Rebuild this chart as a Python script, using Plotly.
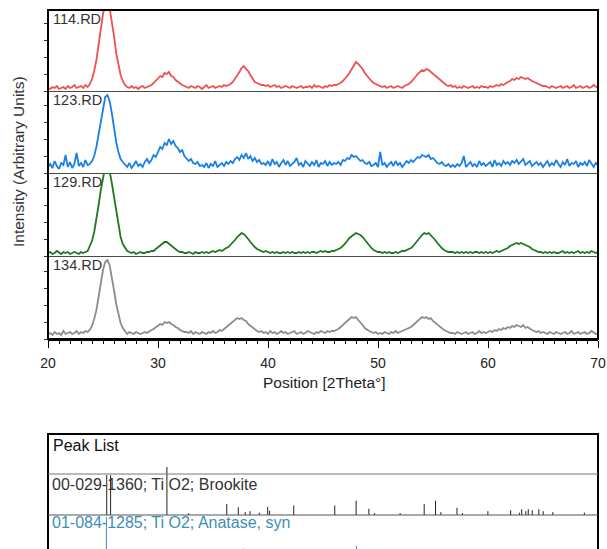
import plotly.graph_objects as go

W, H = 607, 549

# scan grid: one intensity value every 0.2 deg 2theta starting at 20
two_theta_start = 20.0
two_theta_step = 0.2

scan_names = ['114.RD', '123.RD', '129.RD', '134.RD']
scan_colors = ['#ef5050', '#1a80e6', '#1e7a1e', '#8c8c8c']

scan_114 = [
    3, 2, 4, 3, 5, 2, 3, 4, 2, 5, 3, 4, 6, 3, 4, 5, 3, 6, 4,
    7, 12, 20, 31, 46, 62, 77, 86, 89, 83, 70, 55, 38, 25, 16, 10, 6,
    4, 3, 5, 3, 4, 2, 4, 5, 3, 4, 5,
    6, 8, 10, 12, 15, 14, 18, 17, 19, 15, 14, 11, 9, 8, 6, 5,
    4, 3, 5, 4, 3, 5, 4, 2, 4, 6, 3, 4, 5, 3, 4, 5, 4, 6, 5, 6,
    7, 9, 12, 15, 19, 23, 25, 22, 20, 16, 12, 9, 8, 7, 6,
    6, 5, 6, 4, 5, 6, 4, 5, 3, 4, 5, 4, 3, 5, 4, 3, 4, 5, 3, 4,
    4, 5, 3, 6, 4, 5, 4, 3, 5, 4, 6, 5, 6,
    6, 7, 8, 10, 12, 15, 18, 22, 26, 29, 27, 25, 22, 18, 15, 12, 10, 8, 7, 6,
    5, 4, 5, 3, 4, 5, 3, 4, 5, 4, 3, 5, 6,
    7, 9, 11, 14, 17, 19, 21, 20, 22, 21, 19, 18, 15, 13, 11, 9, 8, 6, 5, 6,
    4, 5, 3, 4, 3, 5, 4, 3, 4, 5, 3, 4, 3, 5, 4, 4, 3, 5, 4, 5, 6, 5, 7, 6,
    8, 9, 10, 12, 11, 13, 12, 14, 13, 12, 13, 11, 10, 9, 8, 7, 6, 5,
    5, 4, 3, 5, 4, 3, 4, 5, 3, 4, 5, 3, 4, 6, 3, 4, 5, 3, 4, 5, 3, 4, 6, 4, 3,
]

scan_123 = [
    6, 9, 5, 12, 7, 4, 10, 8, 18, 6, 11, 5, 9, 20, 7, 10, 6, 13, 8,
    9, 12, 17, 26, 38, 53, 66, 76, 78, 72, 60, 45, 31, 21, 14, 11, 8,
    6, 10, 5, 8, 12, 7, 9, 6, 11, 14, 10,
    13, 18, 16, 22, 26, 24, 30, 28, 34, 29, 32, 27, 25, 21, 23, 17,
    15, 12, 14, 10, 9, 11, 7, 8, 6, 10, 5, 9, 7, 12, 6, 8, 10, 7, 11, 9,
    12, 10, 14, 16, 13, 18, 15, 20, 14, 17, 12, 15, 11, 13, 9,
    10, 8, 12, 7, 14, 9, 11, 6, 10, 13, 8, 12, 7, 9, 11, 15, 8, 10, 6, 12,
    9, 7, 11, 8, 13, 6, 10, 9, 12, 7, 11, 8, 10,
    9, 11, 8, 13, 12, 15, 14, 18, 16, 17, 15, 12, 13, 10, 9, 11, 7, 8, 10, 6,
    21, 8, 10, 6, 9, 11, 7, 12, 8, 10, 6, 9, 12,
    10, 13, 11, 14, 16, 15, 18, 17, 16, 18, 14, 15, 12, 10, 9, 11, 8, 7, 9, 6,
    8, 6, 9, 7, 10, 17, 6, 8, 11, 7, 9, 6, 12, 8, 10, 7, 9, 11, 6, 13, 8, 10, 7, 12,
    9, 11, 8, 12, 10, 13, 9, 11, 14, 8, 10, 12, 7, 9, 11, 8, 10, 6,
    9, 12, 7, 10, 8, 13, 9, 6, 11, 8, 14, 7, 10, 9, 12, 6, 10, 8, 11, 7, 13, 9, 6, 10, 8,
]

scan_129 = [
    3, 4, 2, 3, 5, 3, 2, 4, 3, 4, 2, 3, 4, 3, 2, 4, 3, 4, 5,
    10, 15, 24, 36, 51, 66, 80, 89, 91, 85, 73, 59, 43, 29, 19, 12, 8,
    5, 4, 3, 4, 2, 3, 4, 3, 3, 4, 4,
    5, 5, 7, 9, 11, 13, 14, 14, 12, 10, 8, 6, 5, 4, 4, 3,
    3, 4, 3, 2, 4, 3, 3, 4, 3, 4, 3, 4, 5, 4, 5, 6, 5, 7, 8, 9,
    11, 13, 16, 19, 21, 23, 22, 20, 17, 14, 11, 9, 7, 6, 5,
    4, 5, 4, 3, 4, 3, 4, 3, 3, 4, 3, 4, 3, 4, 3, 3, 4, 3, 4, 3,
    4, 3, 4, 4, 3, 4, 5, 4, 5, 4, 4, 5, 5,
    6, 7, 8, 10, 12, 15, 18, 20, 22, 23, 22, 21, 19, 16, 13, 10, 8, 6, 5, 4,
    4, 3, 4, 3, 4, 3, 3, 4, 3, 4, 5, 5, 6,
    7, 8, 10, 13, 16, 19, 21, 23, 22, 23, 21, 19, 16, 13, 10, 8, 6, 5, 4, 4,
    4, 3, 4, 3, 4, 3, 4, 3, 4, 3, 4, 4, 3, 4, 3, 4, 3, 4, 3, 4, 5, 4, 5, 6,
    7, 8, 10, 11, 12, 13, 12, 13, 12, 11, 10, 9, 7, 6, 5, 4, 4, 3,
    4, 3, 4, 3, 4, 3, 3, 4, 5, 3, 4, 3, 4, 3, 4, 5, 3, 4, 3, 4, 3, 5, 4, 3, 4,
]

scan_134 = [
    5, 6, 4, 7, 5, 6, 4, 8, 5, 6, 7, 5, 6, 8, 5, 7, 6, 8, 7,
    9, 13, 20, 29, 42, 56, 69, 77, 79, 74, 63, 49, 35, 24, 16, 11, 8,
    5, 7, 6, 5, 7, 6, 5, 6, 7, 6, 8,
    9, 10, 12, 13, 15, 14, 17, 16, 17, 15, 14, 12, 11, 9, 8, 7,
    7, 6, 8, 5, 7, 6, 5, 7, 6, 5, 7, 6, 8, 6, 7, 9, 8, 10, 11, 13,
    15, 17, 19, 21, 20, 21, 19, 18, 15, 13, 11, 9, 8, 7, 8,
    6, 7, 5, 8, 6, 7, 5, 6, 8, 6, 7, 5, 6, 7, 8, 5, 6, 7, 5, 6,
    8, 7, 6, 5, 7, 6, 8, 7, 6, 8, 7, 8, 8,
    9, 10, 12, 14, 16, 18, 20, 22, 21, 22, 19, 17, 14, 11, 9, 8, 7, 6, 7, 5,
    6, 5, 7, 6, 5, 7, 6, 8, 6, 7, 8, 9, 10,
    11, 12, 14, 16, 18, 20, 22, 21, 22, 20, 21, 18, 16, 14, 12, 10, 9, 8, 7, 6,
    6, 5, 7, 6, 5, 6, 7, 5, 6, 7, 5, 6, 8, 6, 7, 6, 7, 8, 7, 9, 8, 10, 9, 11,
    10, 12, 11, 13, 12, 14, 13, 12, 14, 11, 12, 10, 9, 8, 7, 8, 6, 7,
    6, 5, 7, 6, 5, 7, 6, 5, 6, 7, 5, 6, 8, 5, 6, 7, 5, 6, 7, 5, 6, 8, 6, 5, 6,
]

scans = [scan_114, scan_123, scan_129, scan_134]

# reference patterns (position, relative intensity)
brookite_label = '00-029-1360; Ti O2; Brookite'
brookite_pos = [25.34, 25.69, 30.81, 32.79, 36.25, 37.30, 37.93, 38.37, 39.21, 39.97,
                40.15, 42.34, 46.07, 48.01, 49.17, 49.69, 52.01, 54.20, 55.23, 55.72,
                57.18, 57.68, 59.99, 62.06, 62.85, 63.06, 63.44, 63.66, 64.02, 64.62,
                65.02, 65.89, 68.76]
brookite_rel = [83, 83, 100, 4, 23, 16, 6, 8, 5, 17,
                9, 20, 20, 30, 13, 4, 4, 23, 30, 6,
                15, 4, 8, 10, 5, 12, 8, 12, 10, 12,
                8, 6, 5]

anatase_label = '01-084-1285; Ti O2; Anatase, syn'
anatase_pos = [25.31, 36.95, 37.80, 38.57, 48.04, 53.89, 55.06, 62.12, 62.69, 68.76]
anatase_rel = [100, 6, 19, 7, 26, 17, 17, 3, 13, 6]

x_range = [20, 70]

FONT = 'Liberation Sans, Arial, sans-serif'


def px_x(px):
    return px / W


def px_y(py):
    return 1 - py / H


def stick_xy(pos, rel):
    xs, ys = [], []
    for p, r in zip(pos, rel):
        xs += [p, p, None]
        ys += [0, r, None]
    return xs, ys


# pixel rows of the four stacked panels (top, bottom)
panels = [(10, 91), (91, 173), (173, 256), (256, 339)]
plot_left, plot_right = 48, 598

fig = go.Figure()
layout = {}

for k, (scan, color) in enumerate(zip(scans, scan_colors)):
    n = '' if k == 0 else str(k + 1)
    xs = [round(two_theta_start + two_theta_step * i, 2) for i in range(len(scan))]
    fig.add_trace(go.Scatter(x=xs, y=scan, mode='lines', line=dict(color=color, width=1.8),
                             xaxis='x' + n, yaxis='y' + n, hoverinfo='skip'))

    top, bottom = panels[k]
    last = k == len(panels) - 1
    xaxis = dict(domain=[px_x(plot_left), px_x(plot_right)], range=x_range, anchor='y' + n,
                 showgrid=False, zeroline=False, fixedrange=True, automargin=False)
    if k > 0:
        xaxis['matches'] = 'x'
    if last:
        xaxis.update(showline=True, linecolor='black', linewidth=2,
                     ticks='outside', ticklen=7, tickwidth=1, tickcolor='black',
                     tick0=20, dtick=10, ticklabelstandoff=3,
                     tickfont=dict(family=FONT, size=14, color='#222'),
                     minor=dict(dtick=1, ticks='outside', ticklen=3, tickcolor='black'))
    else:
        xaxis.update(showline=True, linecolor='#4a4a4a', linewidth=1,
                     ticks='', showticklabels=False)
    layout['xaxis' + n] = xaxis
    layout['yaxis' + n] = dict(domain=[px_y(bottom), px_y(top)], range=[0, bottom - top],
                               anchor='x' + n, showgrid=False, zeroline=False,
                               showline=False, showticklabels=False,
                               ticks='outside', ticklen=3, tickcolor='#333', dtick=17,
                               fixedrange=True, automargin=False)

# peak list: brookite row and anatase row
bx, by = stick_xy(brookite_pos, brookite_rel)
fig.add_trace(go.Scatter(x=bx, y=by, mode='lines', line=dict(color='#222222', width=1),
                         xaxis='x5', yaxis='y5', hoverinfo='skip'))
ax, ay = stick_xy(anatase_pos, anatase_rel)
fig.add_trace(go.Scatter(x=ax, y=ay, mode='lines', line=dict(color='#3d8eb5', width=1),
                         xaxis='x6', yaxis='y6', hoverinfo='skip'))

layout['xaxis5'] = dict(domain=[px_x(plot_left), px_x(plot_right)], range=x_range,
                        anchor='y5', visible=False, fixedrange=True, automargin=False)
layout['yaxis5'] = dict(domain=[px_y(515), px_y(460)], range=[0, 100 * 55 / 48],
                        anchor='x5', visible=False, fixedrange=True, automargin=False)
layout['xaxis6'] = dict(domain=[px_x(plot_left), px_x(plot_right)], range=x_range,
                        anchor='y6', visible=False, fixedrange=True, automargin=False)
layout['yaxis6'] = dict(domain=[0, px_y(515)], range=[7 / 0.39, 41 / 0.39],
                        anchor='x6', visible=False, fixedrange=True, automargin=False)

annotations = []
for k, name in enumerate(scan_names):
    annotations.append(dict(text=name, x=px_x(51), y=px_y(panels[k][0] + 9),
                            xref='paper', yref='paper', xanchor='left', yanchor='middle',
                            showarrow=False, font=dict(family=FONT, size=14.5, color='#333')))

annotations += [
    dict(text='Intensity (Arbitrary Units)', x=px_x(18), y=px_y(162), textangle=-90,
         xref='paper', yref='paper', xanchor='center', yanchor='middle', showarrow=False,
         font=dict(family=FONT, size=15.5, color='#333')),
    dict(text='Position [2Theta°]', x=px_x(324), y=px_y(382),
         xref='paper', yref='paper', xanchor='center', yanchor='middle', showarrow=False,
         font=dict(family=FONT, size=15.5, color='#222')),
    dict(text='Peak List', x=px_x(51), y=px_y(445), xanchor='left', yanchor='middle',
         xref='paper', yref='paper', showarrow=False,
         font=dict(family=FONT, size=16, color='#111')),
    dict(text=brookite_label, x=px_x(50), y=px_y(484), xanchor='left', yanchor='middle',
         xref='paper', yref='paper', showarrow=False,
         font=dict(family=FONT, size=16, color='#333')),
    dict(text=anatase_label, x=px_x(50), y=px_y(522), xanchor='left', yanchor='middle',
         xref='paper', yref='paper', showarrow=False,
         font=dict(family=FONT, size=16, color='#3d8eb5')),
]

shapes = [
    # frame round the stacked scans
    dict(type='rect', xref='paper', yref='paper', x0=px_x(plot_left), x1=px_x(plot_right),
         y0=px_y(339), y1=px_y(10), line=dict(color='black', width=2)),
    # frame of the peak list
    dict(type='rect', xref='paper', yref='paper', x0=px_x(plot_left), x1=px_x(plot_right),
         y0=px_y(580), y1=px_y(434), line=dict(color='black', width=2)),
    dict(type='line', xref='paper', yref='paper', x0=px_x(plot_left), x1=px_x(plot_right),
         y0=px_y(474), y1=px_y(474), line=dict(color='#777', width=1)),
    dict(type='line', xref='paper', yref='paper', x0=px_x(plot_left), x1=px_x(plot_right),
         y0=px_y(515), y1=px_y(515), line=dict(color='#555', width=1.2)),
]

fig.update_layout(
    template='none',
    width=W, height=H,
    margin=dict(l=0, r=0, t=0, b=0, pad=0),
    paper_bgcolor='white', plot_bgcolor='rgba(0,0,0,0)',
    showlegend=False,
    annotations=annotations,
    shapes=shapes,
    font=dict(family=FONT),
    **layout
)

# page body has a default 8px margin, drop it so the figure sits at the corner
fig.write_html("out.html", config={'displayModeBar': False},
               post_script="document.body.style.margin = '0px';")
